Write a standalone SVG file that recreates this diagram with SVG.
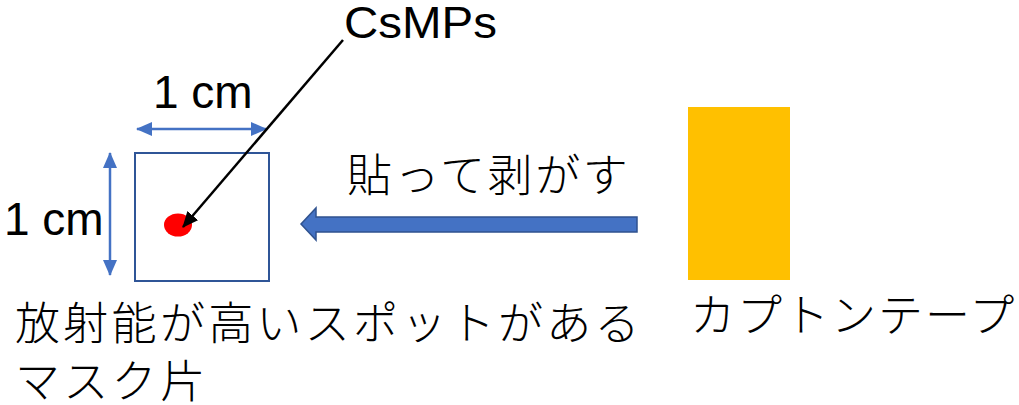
<svg xmlns="http://www.w3.org/2000/svg" width="1019" height="405" viewBox="0 0 1019 405">
<style>
.lat{font-family:"Liberation Sans",Arial,sans-serif;font-size:46px;fill:#000}
.jp{font-family:"Noto Sans CJK JP","Noto Sans CJK SC",sans-serif;font-size:45px;font-weight:300;letter-spacing:2.6px;fill:#000}
.dim{stroke:#4472C4;stroke-width:2.5;fill:none}
</style>
<defs>
<marker id="bh" markerUnits="userSpaceOnUse" markerWidth="16" markerHeight="14" refX="15" refY="7" orient="auto-start-reverse">
<path d="M0,0 L16,7 L0,14 Z" fill="#4472C4"/>
</marker>
<marker id="kh" markerUnits="userSpaceOnUse" markerWidth="16" markerHeight="14" refX="15" refY="7" orient="auto">
<path d="M0,0 L16,7 L0,14 Z" fill="#000"/>
</marker>
</defs>
<rect width="1019" height="405" fill="#fff"/>
<g id="mask">
<rect x="135" y="153" width="134" height="128" fill="none" stroke="#2F5597" stroke-width="2"/>
<ellipse id="spot" cx="178" cy="225" rx="14" ry="11.5" fill="#FF0000"/>
<text class="jp" x="15" y="340" style="letter-spacing:3.3px">放射能が高いスポットがある</text>
<text class="jp" x="15" y="398" style="letter-spacing:3.3px">マスク片</text>
</g>
<g id="tape">
<rect x="688" y="107" width="102" height="173" fill="#FFC000"/>
<text class="jp" x="690" y="332" style="letter-spacing:2px">カプトンテープ</text>
</g>
<g id="dim-labels">
<text class="lat" x="153" y="108">1 cm</text>
<text class="lat" x="4" y="235">1 cm</text>
</g>
<g id="csmps-label">
<text class="lat" x="344" y="38" textLength="153" lengthAdjust="spacingAndGlyphs" style="font-size:44px">CsMPs</text>
</g>
<g id="connectors">
<line class="dim" x1="137" y1="129" x2="266" y2="129" marker-start="url(#bh)" marker-end="url(#bh)"/>
<line class="dim" x1="110" y1="153" x2="110" y2="275" marker-start="url(#bh)" marker-end="url(#bh)"/>
<line x1="343" y1="40" x2="183" y2="227" stroke="#000" stroke-width="2.5" marker-end="url(#kh)"/>
<polygon points="301,224 316,208 316,217 637,217 637,232 316,232 316,240" fill="#4472C4" stroke="#2F528F" stroke-width="1.5"/>
<text class="jp" x="347" y="192">貼って剥がす</text>
</g>
</svg>
